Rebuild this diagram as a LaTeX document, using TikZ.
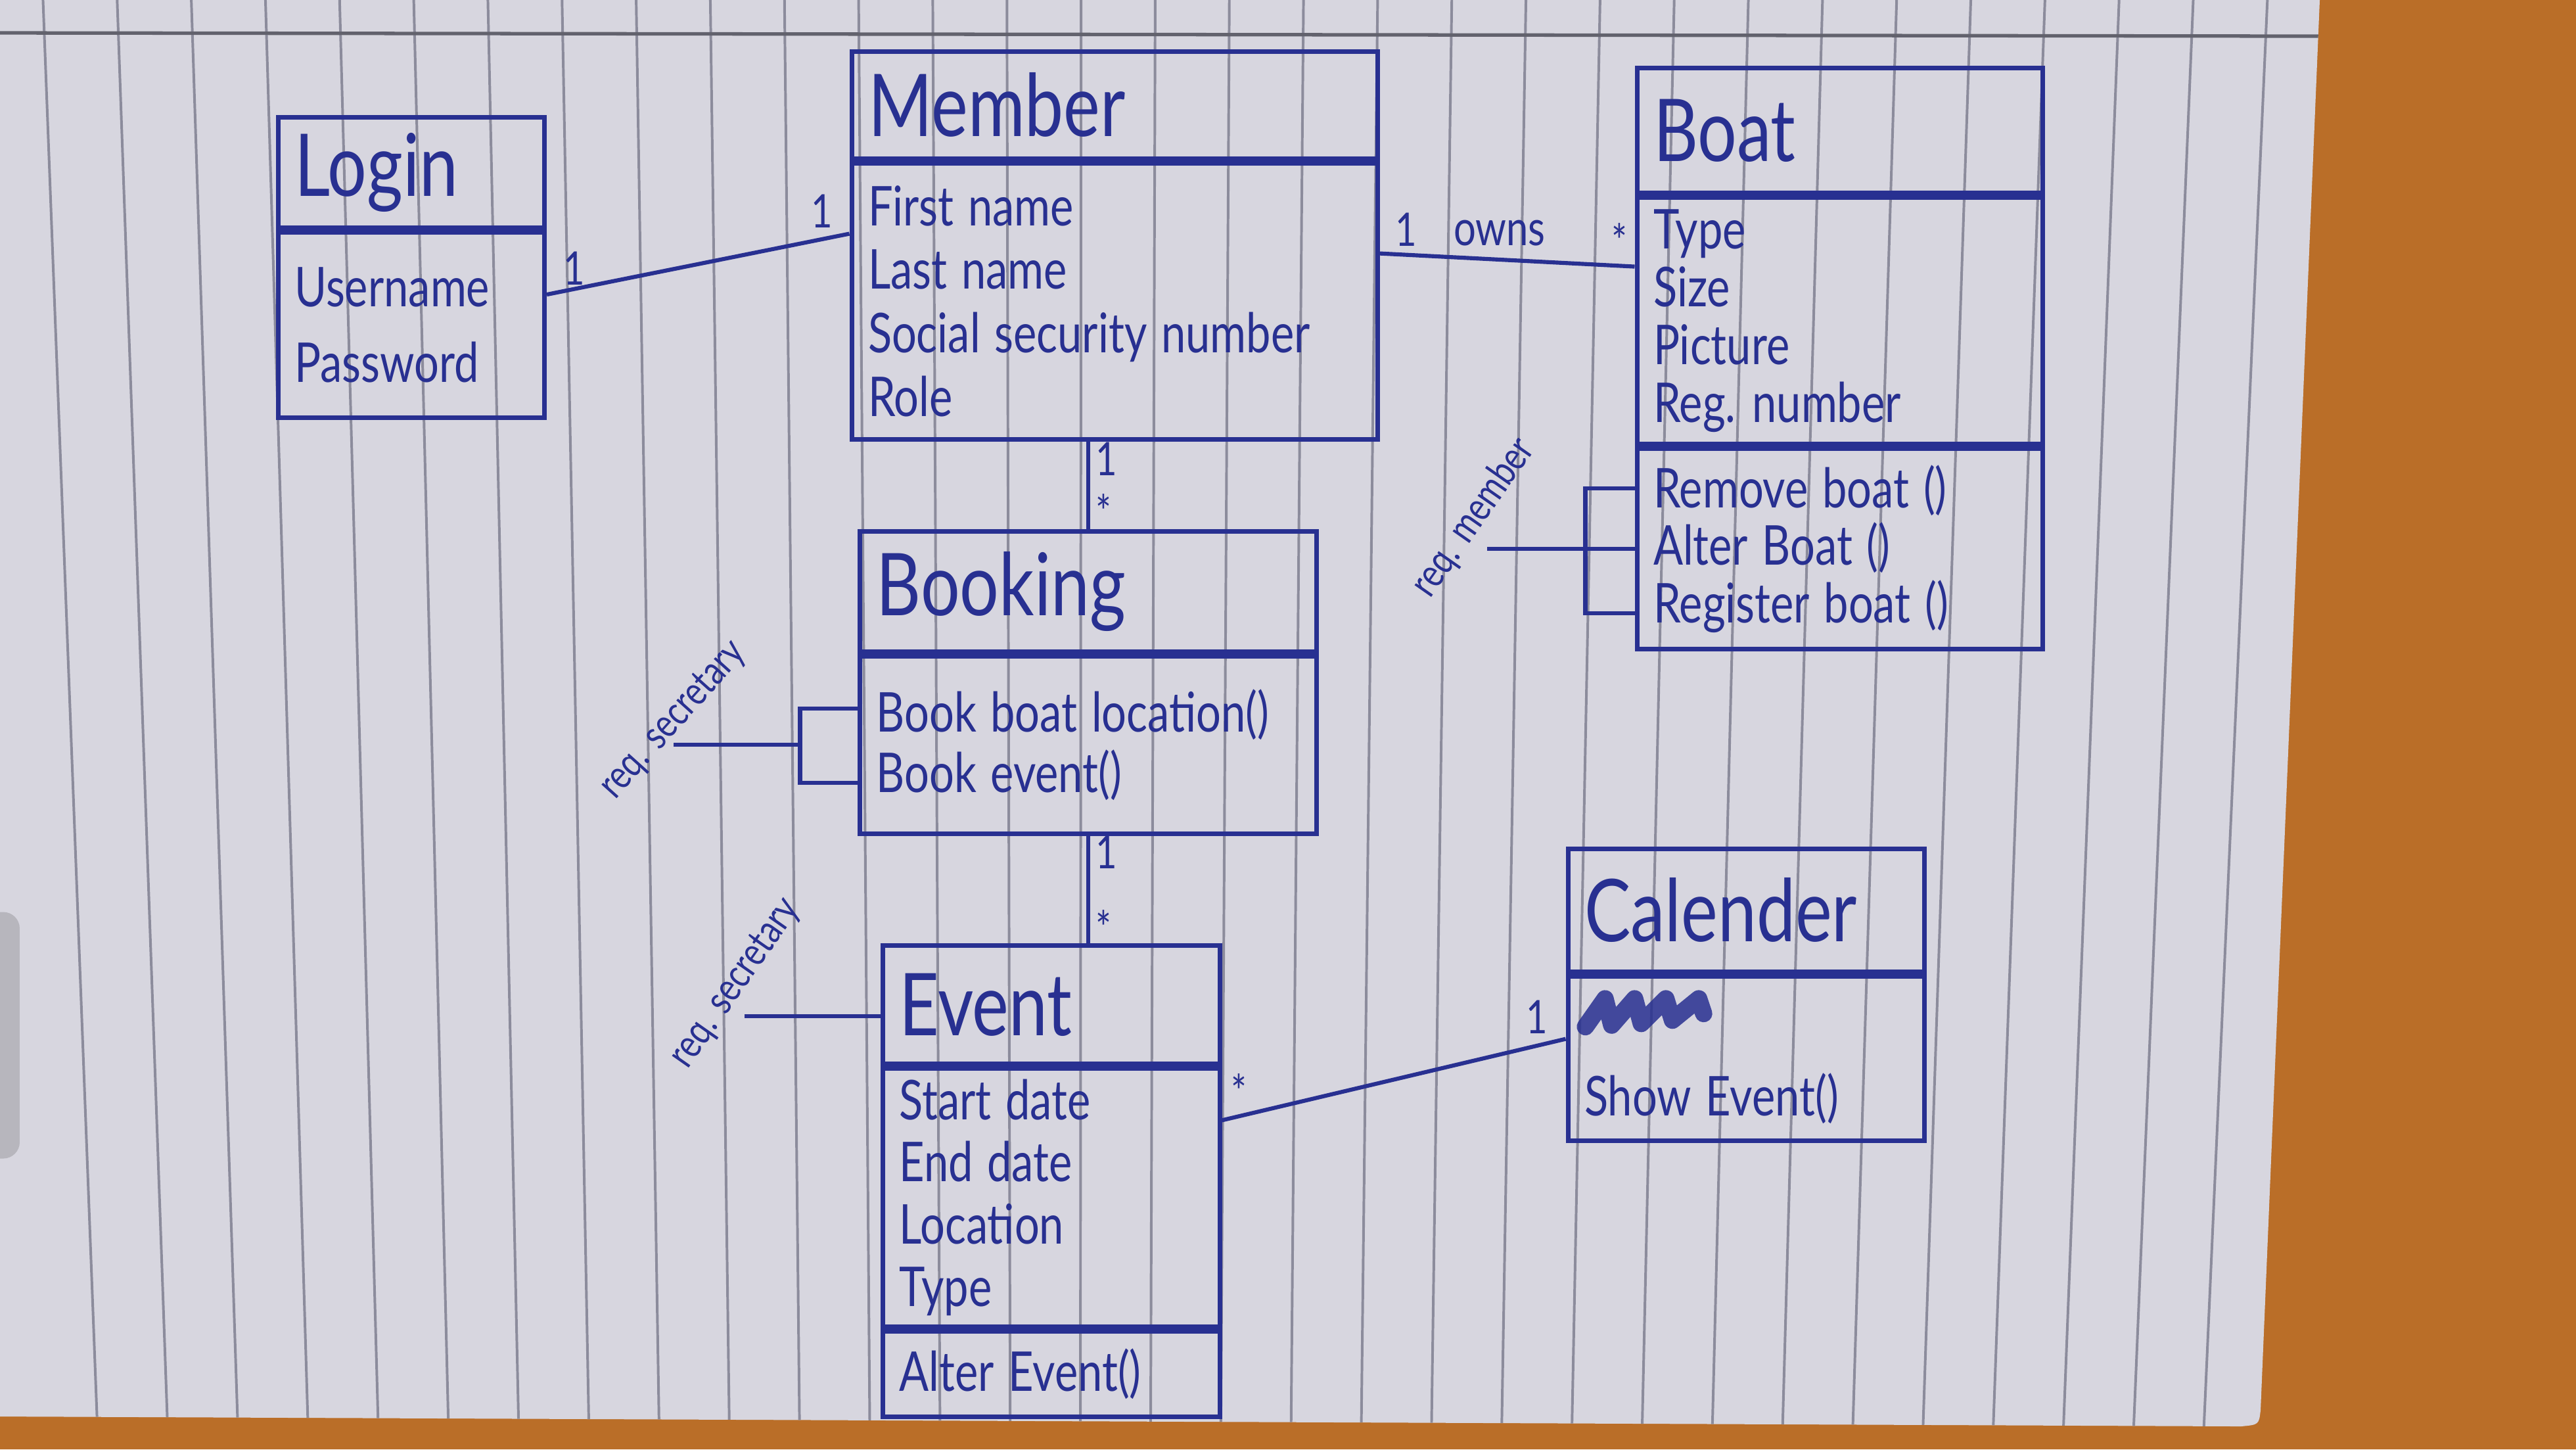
\documentclass[tikz,border=0pt]{standalone}
\usepackage{fontspec}
\setmainfont[FakeStretch=0.8]{Lato}
\usetikzlibrary{positioning,calc}
\definecolor{ink}{RGB}{40,48,145}
\definecolor{paper}{RGB}{215,214,223}
\definecolor{rule}{RGB}{140,140,156}
\definecolor{desk}{RGB}{186,110,40}

\begin{document}
\begin{tikzpicture}[
  x=1cm, y=-1cm,
  every node/.style={execute at begin node={\spaceskip=0.26em\relax\xspaceskip=0.3em\relax}},
  head/.style={draw=ink, line width=0.8pt, text=ink, align=left, anchor=north west, inner xsep=1mm, inner ysep=0pt, font=\fontsize{15}{17}\selectfont},
  part/.style={draw=ink, line width=0.8pt, text=ink, align=left, inner xsep=1mm, inner ysep=0pt, font=\fontsize{9.5}{#1}\selectfont},
  part/.default=11,
  mult/.style={text=ink, inner sep=1pt, font=\fontsize{8}{9}\selectfont},
  note/.style={text=ink, inner sep=0pt, font=\fontsize{7}{8}\selectfont},
  line/.style={draw=ink, line width=0.7pt},
  scribble/.style={draw=ink, line width=3pt, line cap=round, line join=round, opacity=0.85}]
\useasboundingbox (0,0) rectangle (15.68,8.82);
% desk and sheet
\fill[desk] (0,0) rectangle (15.68,8.82);
\path[fill=paper] (0,0) -- (14.12,0) -- (13.76,8.58) .. controls (13.75,8.67) .. (13.64,8.68) -- (0,8.62) -- cycle;
\begin{scope}
  \clip (0,0) -- (14.12,0) -- (13.76,8.58) -- (13.64,8.68) -- (0,8.62) -- cycle;
  \fill[paper!85!black, rounded corners=1mm] (-0.1,5.55) rectangle (0.12,7.05);
  \foreach \i [evaluate=\i as \xm using 0.46+0.437*\i, evaluate=\i as \sl using 0.041-0.0063*(0.46+0.437*\i)] in {0,...,31}
    \draw[rule, line width=0.45pt] ({\xm-5.2*\sl},0) -- ({\xm+3.5*\sl},8.7);
  \draw[rule!70!black, line width=0.6pt] (0,0.2) -- (14.12,0.22);
\end{scope}

% classes
\node[head, text width=1.42cm, minimum height=6.7mm] (login) at (1.68,0.70) {Login};
\node[part=13, text width=1.42cm, minimum height=11.3mm, below=0pt of login] (loginbody) {Username\\Password};

\node[head, text width=3.0cm, minimum height=6.5mm] (member) at (5.17,0.30) {Member};
\node[part, text width=3.0cm, minimum height=16.8mm, below=0pt of member] (memberbody) {First name\\Last name\\Social security number\\Role};

\node[head, text width=2.27cm, minimum height=7.6mm] (boat) at (9.95,0.40) {Boat};
\node[part=10, text width=2.27cm, minimum height=15mm, below=0pt of boat] (boatattr) {Type\\Size\\Picture\\Reg. number};
\node[part=10, text width=2.27cm, minimum height=12.2mm, below=0pt of boatattr] (boatmeth) {Remove boat ()\\Alter Boat ()\\Register boat ()};

\node[head, text width=2.58cm, minimum height=7.3mm] (booking) at (5.22,3.22) {Booking};
\node[part=10.5, text width=2.58cm, minimum height=10.8mm, below=0pt of booking] (bookingbody) {Book boat location()\\Book event()};

\node[head, text width=1.85cm, minimum height=7.2mm] (event) at (5.36,5.74) {Event};
\node[part=10.8, text width=1.85cm, minimum height=15.7mm, below=0pt of event] (eventattr) {Start date\\End date\\Location\\Type};
\node[part, text width=1.85cm, minimum height=5.2mm, below=0pt of eventattr] (eventmeth) {Alter Event()};

\node[head, text width=1.97cm, minimum height=7.5mm] (calender) at (9.53,5.15) {Calender};
\node[part=12.5, text width=1.97cm, minimum height=10mm, below=0pt of calender] (calbody) {\strut\\Show Event()};
\draw[scribble] ([shift={(1.2mm,-3.2mm)}]calbody.north west) -- ++(1.2mm,1.7mm) -- ++(0.4mm,-1.6mm) -- ++(1.4mm,1.6mm) -- ++(0.4mm,-1.5mm) -- ++(1.5mm,1.5mm) -- ++(0.4mm,-1.3mm) -- ++(1.6mm,1.3mm) -- ++(0.3mm,-0.9mm);

% associations
\draw[line] ([yshift=1.85mm]loginbody.east) -- ([yshift=4.1mm]memberbody.west)
  node[mult, pos=0.03, above right] {1} node[mult, pos=0.97, above left] {1};
\draw[line] ([yshift=2.9mm]memberbody.east) -- ([yshift=3.3mm]boatattr.west)
  node[mult, pos=0.03, above right] {1} node[mult, pos=0.47, above=1pt, font=\fontsize{8.5}{9}\selectfont] {owns} node[mult, pos=0.94, above] {*};
\draw[line] (memberbody.south -| booking.north) -- (booking.north)
  node[mult, pos=0.2, right] {1} node[mult, pos=0.8, right] {*};
\draw[line] (bookingbody.south) -- (bookingbody.south |- event.north)
  node[mult, pos=0.15, right] {1} node[mult, pos=0.85, right] {*};
\draw[line] ([yshift=4.7mm]eventattr.east) -- ([yshift=1.2mm]calbody.west)
  node[mult, pos=0.05, above] {*} node[mult, pos=0.97, above left] {1};

% access notes
\coordinate (rm1) at ([yshift=3.7mm]boatmeth.west);
\coordinate (rm3) at ([yshift=-3.9mm]boatmeth.west);
\draw[line] (rm1) -- ++(-3mm,0) |- (rm3);
\draw[line] (boatmeth.west) -- ++(-9mm,0) coordinate (rmfree);
\node[note, rotate=55] (reqmember) at ([xshift=-0.8mm, yshift=1.9mm]rmfree) {req. member};

\coordinate (bk1) at ([yshift=2.2mm]bookingbody.west);
\coordinate (bk2) at ([yshift=-2.3mm]bookingbody.west);
\draw[line] (bk1) -- ++(-3.5mm,0) |- (bk2);
\draw[line] (bookingbody.west) ++(-3.5mm,0) -- ++(-7.7mm,0) coordinate (bkfree);
\node[note, rotate=48] (reqbooking) at ([yshift=1.5mm]bkfree) {req. secretary};

\draw[line] ([yshift=-0.7mm]event.west) -- ++(-8.3mm,0) coordinate (evfree);
\node[note, rotate=55] (reqevent) at ([xshift=-0.5mm, yshift=2mm]evfree) {req. secretary};
\end{tikzpicture}
\end{document}
